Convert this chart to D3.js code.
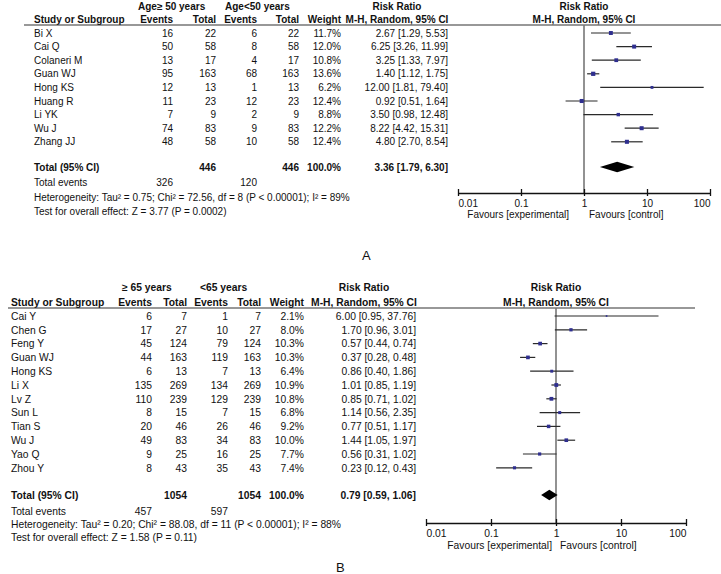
<!DOCTYPE html>
<html><head><meta charset="utf-8">
<script src="https://cdn.jsdelivr.net/npm/d3@7"></script>
<style>
html,body{margin:0;padding:0;background:#fff;}
svg{display:block;}
text{font-family:"Liberation Sans",Arial,sans-serif;fill:#111;}
</style></head>
<body>
<script>
// ---------- Panel A data ----------
const A_study = ["Bi X","Cai Q","Colaneri M","Guan WJ","Hong KS","Huang R","Li YK","Wu J","Zhang JJ"];
const A_ev1 = [16,50,13,95,12,11,7,74,48];
const A_tot1 = [22,58,17,163,13,23,9,83,58];
const A_ev2 = [6,8,4,68,1,12,2,9,10];
const A_tot2 = [22,58,17,163,13,23,9,83,58];
const A_weight = [11.7,12.0,10.8,13.6,6.2,12.4,8.8,12.2,12.4];
const A_rr = [2.67,6.25,3.25,1.40,12.00,0.92,3.50,8.22,4.80];
const A_lo = [1.29,3.26,1.33,1.12,1.81,0.51,0.98,4.42,2.70];
const A_hi = [5.53,11.99,7.97,1.75,79.40,1.64,12.48,15.31,8.54];
const A_pooled = [3.36,1.79,6.30];
const A_totals = [446,446];
const A_events = [326,120];
const A_groups = ["Age\u2265 50 years","Age<50 years"];
const A_het = "Heterogeneity: Tau\u00b2 = 0.75; Chi\u00b2 = 72.56, df = 8 (P < 0.00001); I\u00b2 = 89%";
const A_test = "Test for overall effect: Z = 3.77 (P = 0.0002)";

// ---------- Panel B data ----------
const B_study = ["Cai Y","Chen G","Feng Y","Guan WJ","Hong KS","Li X","Lv Z","Sun L","Tian S","Wu J","Yao Q","Zhou Y"];
const B_ev1 = [6,17,45,44,6,135,110,8,20,49,9,8];
const B_tot1 = [7,27,124,163,13,269,239,15,46,83,25,43];
const B_ev2 = [1,10,79,119,7,134,129,7,26,34,16,35];
const B_tot2 = [7,27,124,163,13,269,239,15,46,83,25,43];
const B_weight = [2.1,8.0,10.3,10.3,6.4,10.9,10.8,6.8,9.2,10.0,7.7,7.4];
const B_rr = [6.00,1.70,0.57,0.37,0.86,1.01,0.85,1.14,0.77,1.44,0.56,0.23];
const B_lo = [0.95,0.96,0.44,0.28,0.40,0.85,0.71,0.56,0.51,1.05,0.31,0.12];
const B_hi = [37.76,3.01,0.74,0.48,1.86,1.19,1.02,2.35,1.17,1.97,1.02,0.43];
const B_pooled = [0.79,0.59,1.06];
const B_totals = [1054,1054];
const B_events = [457,597];
const B_groups = ["\u2265 65 years","<65 years"];
const B_het = "Heterogeneity: Tau\u00b2 = 0.20; Chi\u00b2 = 88.08, df = 11 (P < 0.00001); I\u00b2 = 88%";
const B_test = "Test for overall effect: Z = 1.58 (P = 0.11)";

// ---------- axis ----------
const tickValues = [0.01,0.1,1,10,100];
const tickLabels = ["0.01","0.1","1","10","100"];
const favourLabels = ["Favours [experimental]","Favours [control]"];
const colHeaders = ["Study or Subgroup","Events","Total","Events","Total","Weight","Risk Ratio","M-H, Random, 95% CI"];

const W = 721, H = 574;
const svg = d3.select("body").append("svg").attr("width",W).attr("height",H);

const f2 = d3.format(".2f"), f1 = d3.format(".1f");

function panel(d, L){
  const g = svg.append("g").style("font-size", L.fs + "px");
  const n = d.study.length;
  const y = d3.scaleLinear().domain([0,n-1]).range([L.row0, L.rowN]);
  const x = d3.scaleLog().domain([0.01,100]).range([L.ax0, L.ax1]);
  const bl = L.fs*0.36; // baseline offset from centre
  function txt(s, xx, yy, anchor, bold){
    return g.append("text").attr("x",xx).attr("y",yy+bl).attr("text-anchor",anchor||"start")
      .style("font-weight", bold?"bold":"normal").text(s);
  }
  // group headers
  txt(d.groups[0], L.g1, L.h1, "start", true);
  txt(d.groups[1], L.g2, L.h1, "start", true);
  txt(colHeaders[6], L.rrC, L.h1, "middle", true);
  txt(colHeaders[6], x(1), L.h1, "middle", true);
  // column headers
  txt(colHeaders[0], L.cStudy, L.h2, "start", true);
  txt(colHeaders[1], L.cE1, L.h2, "end", true);
  txt(colHeaders[2], L.cT1, L.h2, "end", true);
  txt(colHeaders[3], L.cE2, L.h2, "end", true);
  txt(colHeaders[4], L.cT2, L.h2, "end", true);
  txt(colHeaders[5], L.cW, L.h2, "end", true);
  txt(colHeaders[7], L.rrC, L.h2, "middle", true);
  txt(colHeaders[7], x(1), L.h2, "middle", true);
  g.append("line").attr("x1",L.line0).attr("x2",L.line1).attr("y1",L.hline).attr("y2",L.hline)
    .attr("stroke","#333").attr("stroke-width",1.2);

  // rows
  d3.range(n).forEach(i=>{
    const yy = y(i);
    txt(d.study[i], L.cStudy, yy);
    txt(d.ev1[i], L.cE1, yy, "end");
    txt(d.tot1[i], L.cT1, yy, "end");
    txt(d.ev2[i], L.cE2, yy, "end");
    txt(d.tot2[i], L.cT2, yy, "end");
    txt(f1(d.weight[i])+"%", L.cW, yy, "end");
    txt(f2(d.rr[i])+" ["+f2(d.lo[i])+", "+f2(d.hi[i])+"]", L.cRR, yy, "end");
  });

  // vertical null line
  g.append("line").attr("x1",x(1)).attr("x2",x(1)).attr("y1",L.hline).attr("y2",L.axisY)
    .attr("stroke","#777").attr("stroke-width",1.6);

  // CI lines and squares
  d3.range(n).forEach(i=>{
    const yy = y(i);
    g.append("line").attr("x1",x(d.lo[i])).attr("x2",x(d.hi[i])).attr("y1",yy).attr("y2",yy)
      .attr("stroke","#2a2a2a").attr("stroke-width",1.2);
    const s = 1.15*Math.sqrt(d.weight[i]);
    g.append("rect").attr("x",x(d.rr[i])-s/2).attr("y",yy-s/2).attr("width",s).attr("height",s)
      .attr("fill","#2f2f8f");
  });

  // totals
  txt("Total (95% CI)", L.cStudy, L.totY, "start", true);
  txt(d.totals[0], L.cT1, L.totY, "end", true);
  txt(d.totals[1], L.cT2, L.totY, "end", true);
  txt("100.0%", L.cW, L.totY, "end", true);
  txt(f2(d.pooled[0])+" ["+f2(d.pooled[1])+", "+f2(d.pooled[2])+"]", L.cRR, L.totY, "end", true);
  const dh = 5.2;
  g.append("path").attr("d", d3.line()([
      [x(d.pooled[1]), L.totY],[x(d.pooled[0]), L.totY-dh],[x(d.pooled[2]), L.totY],[x(d.pooled[0]), L.totY+dh]
    ])+"Z").attr("fill","#000");

  txt("Total events", L.cStudy, L.evY);
  txt(d.events[0], L.cE1, L.evY, "end");
  txt(d.events[1], L.cE2, L.evY, "end");
  txt(d.het, L.cStudy, L.hetY);
  txt(d.test, L.cStudy, L.testY);

  // axis
  const axis = d3.axisBottom(x).tickValues(tickValues).tickSize(0).tickPadding(0)
    .tickFormat((v,i)=>tickLabels[i]);
  const ag = g.append("g").attr("transform",`translate(0,${L.axisY})`).call(axis);
  ag.select(".domain").attr("stroke","#111").attr("stroke-width",1.3);
  ag.selectAll(".tick line").attr("y1",-4).attr("y2",3).attr("stroke","#111").attr("stroke-width",1.3);
  ag.selectAll(".tick text").attr("y", L.tickY - L.axisY + bl).attr("dy",null)
    .style("font-family","'Liberation Sans',Arial,sans-serif").style("font-size",L.fs+"px").attr("fill","#111")
    .attr("text-anchor",(v,i)=> i===0?"start":(i===tickValues.length-1?"end":"middle"));
  txt(favourLabels[0], x(1)-L.favGapL, L.favY, "end");
  txt(favourLabels[1], x(1)+L.favGapR, L.favY, "start");

  g.append("text").attr("x",L.labX).attr("y",L.labY).style("font-size","13px").text(L.label);
}

panel({study:A_study, ev1:A_ev1, tot1:A_tot1, ev2:A_ev2, tot2:A_tot2, weight:A_weight, rr:A_rr, lo:A_lo, hi:A_hi,
  pooled:A_pooled, totals:A_totals, events:A_events, groups:A_groups, het:A_het, test:A_test},
  {fs:10, h1:6, h2:19, hline:25, line0:24, line1:721, row0:33, rowN:141.8, totY:167, evY:182, hetY:197, testY:211,
   cStudy:34, cE1:173, cT1:216, cE2:257, cT2:299, cW:341, cRR:448, rrC:397, g1:138, g2:225,
   ax0:458, ax1:710, axisY:193, tickY:203, favY:214, favGapL:15, favGapR:5, labX:362, labY:260, label:"A"});

panel({study:B_study, ev1:B_ev1, tot1:B_tot1, ev2:B_ev2, tot2:B_tot2, weight:B_weight, rr:B_rr, lo:B_lo, hi:B_hi,
  pooled:B_pooled, totals:B_totals, events:B_events, groups:B_groups, het:B_het, test:B_test},
  {fs:10.3, h1:287, h2:302, hline:308, line0:8, line1:695, row0:316, rowN:467.8, totY:495, evY:511, hetY:524, testY:537,
   cStudy:11, cE1:152, cT1:187, cE2:228, cT2:261, cW:304, cRR:416, rrC:364, g1:122, g2:200,
   ax0:426, ax1:686, axisY:523, tickY:533, favY:545, favGapL:4, favGapR:4, labX:336, labY:572, label:"B"});
</script>
</body></html>
